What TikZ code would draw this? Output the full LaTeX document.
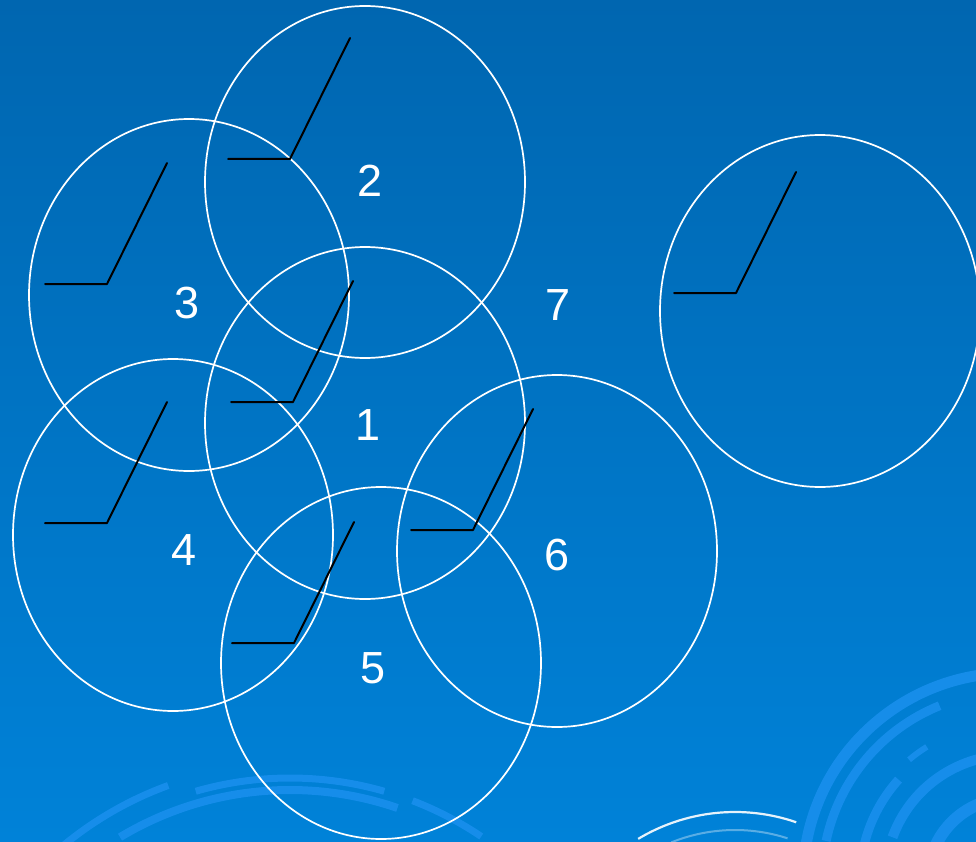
\documentclass[tikz,border=0pt]{standalone}
\usepackage{fontspec}
\setmainfont{Liberation Sans}
\usetikzlibrary{positioning}
\definecolor{bgtop}{HTML}{0066B0}
\definecolor{bgbot}{HTML}{0082D8}
\definecolor{swirl}{HTML}{1A90EE}

\begin{document}
\begin{tikzpicture}[x=1pt, y=-1pt, line join=round,
  ring/.style={draw=white, line width=1.7pt},
  num/.style={text=white, font=\fontsize{45}{50}\selectfont, inner sep=0pt},
  lead/.style={draw=black, line width=2pt, line cap=round},
  deco/.style={draw=swirl, line width=#1, line cap=butt, opacity=0.85},
  deco/.default=7pt]

% ================================================ background
\shade[top color=bgtop, bottom color=bgbot] (0,0) rectangle (976,842);
\useasboundingbox (0,0) rectangle (976,842);

% ================================================ swirls, bottom left
\coordinate (sl) at (290,1120);
\draw[deco] (sl) ++(-110:356) arc[start angle=-110, end angle=-130, radius=356];
\draw[deco] (sl) ++(-74:342) arc[start angle=-74, end angle=-106, radius=342];
\draw[deco] (sl) ++(-56:342) arc[start angle=-56, end angle=-69, radius=342];
\draw[deco=8pt] (sl) ++(-71:330) arc[start angle=-71, end angle=-121, radius=330];

% ================================================ swirls, bottom right
\coordinate (sr) at (1010,880);
\draw[deco=11pt] (sr) ++(-80:207) arc[start angle=-80, end angle=-170, radius=207];
\draw[deco=9pt] (sr) ++(-112:188) arc[start angle=-112, end angle=-168, radius=188];
\draw[deco=9pt] (sr) ++(-70:152) arc[start angle=-70, end angle=-84, radius=152];
\draw[deco=6pt] (sr) ++(-122:157) arc[start angle=-122, end angle=-130, radius=157];
\draw[deco=9pt] (sr) ++(-138:150) arc[start angle=-138, end angle=-168, radius=150];
\draw[deco=10pt] (sr) ++(-70:125) arc[start angle=-70, end angle=-160, radius=125];
\draw[deco=12pt] (sr) ++(-60:82) arc[start angle=-60, end angle=-160, radius=82];

% white streak
\coordinate (sw) at (735,1000);
\draw[white, line width=2.2pt, opacity=0.9] (sw) ++(-71:188) arc[start angle=-71, end angle=-121, radius=188];
\draw[white, line width=2pt, opacity=0.35] (sw) ++(-72:170) arc[start angle=-72, end angle=-112, radius=170];

% ================================================ rings
\foreach \n/\x/\y in {2/365/182, 3/189/295, 1/365/423, 4/173/535,
                      5/381/663, 6/557/551, r/820/311}
  \draw[ring] (\x,\y) ellipse [x radius=160, y radius=176];

% ================================================ numbers
\foreach \t/\x/\y in {2/370/181, 3/187/303, 1/368/425, 7/558/305,
                      4/184/550, 6/557/555, 5/373/668}
  \node[num] (n\t) at (\x,\y) {\t};

% ================================================ leader lines
\foreach \k/\x/\y in {a/290/159, b/107/284, c/736/293, d/293/402,
                      e/107/523, f/473/530, g/294/643}
{
  \coordinate (k\k) at (\x,\y);
  \draw[lead] (k\k) ++(-62,0) -- (k\k) -- ++(60,-121);
}

\end{tikzpicture}
\end{document}
